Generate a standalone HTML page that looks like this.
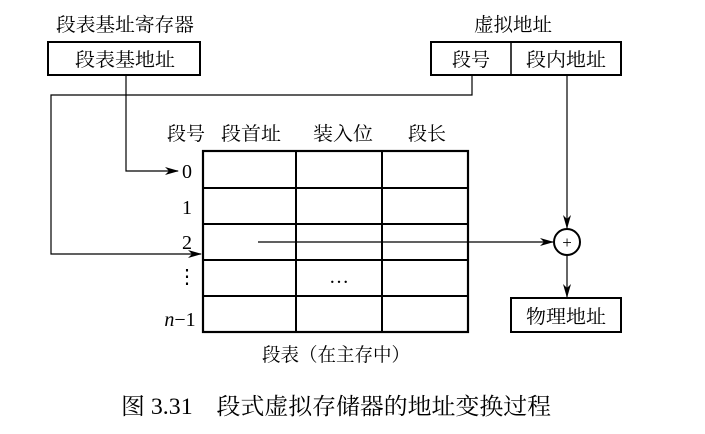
<!DOCTYPE html>
<html><head><meta charset="utf-8"><style>
html,body{margin:0;padding:0;background:#fff}
svg text{font-family:"Liberation Serif","Noto Serif CJK SC",serif;fill:#000}
</style></head><body>
<svg width="705" height="429" viewBox="0 0 705 429" xmlns="http://www.w3.org/2000/svg">
<defs><marker id="a" markerWidth="14" markerHeight="8" refX="13" refY="4" orient="auto" markerUnits="userSpaceOnUse"><path d="M0,0 L14,4 L0,8 L4,4 Z" fill="#000"/></marker></defs>
<g font-size="19">
<text x="56" y="31" textLength="138" lengthAdjust="spacingAndGlyphs">段表基址寄存器</text>
<text x="474" y="31" textLength="78" lengthAdjust="spacingAndGlyphs">虚拟地址</text>
</g>
<g fill="none" stroke="#000">
<rect x="48" y="42" width="152" height="33" stroke-width="2"/>
<rect x="431" y="42" width="190" height="33" stroke-width="2"/>
<line x1="511" y1="42" x2="511" y2="75" stroke-width="1.5"/>
<rect x="511" y="298" width="110" height="34" stroke-width="2"/>
<rect x="203" y="151" width="265" height="181" stroke-width="2.2"/>
<line x1="296" y1="151" x2="296" y2="332" stroke-width="2"/>
<line x1="382" y1="151" x2="382" y2="332" stroke-width="2"/>
<line x1="203" y1="188" x2="468" y2="188" stroke-width="2"/>
<line x1="203" y1="224" x2="468" y2="224" stroke-width="2"/>
<line x1="203" y1="260" x2="468" y2="260" stroke-width="2"/>
<line x1="203" y1="296" x2="468" y2="296" stroke-width="2"/>
<polyline points="126,75 126,171 178,171" stroke-width="1.2" marker-end="url(#a)"/>
<polyline points="472,75 472,95 51,95 51,254 201,254" stroke-width="1.2" marker-end="url(#a)"/>
<line x1="258" y1="242" x2="553" y2="242" stroke-width="1.2" marker-end="url(#a)"/>
<line x1="567" y1="75" x2="567" y2="228" stroke-width="1.2" marker-end="url(#a)"/>
<line x1="567" y1="256" x2="567" y2="297" stroke-width="1.2" marker-end="url(#a)"/>
<circle cx="567" cy="242" r="13" stroke-width="2"/>
</g>
<text x="567" y="248" font-size="17" text-anchor="middle">+</text>
<g font-size="19" text-anchor="middle">
<text x="125" y="66" textLength="100" lengthAdjust="spacingAndGlyphs">段表基地址</text>
<text x="471" y="66">段号</text>
<text x="566" y="66" textLength="80" lengthAdjust="spacingAndGlyphs">段内地址</text>
<text x="566" y="323" textLength="80" lengthAdjust="spacingAndGlyphs">物理地址</text>
<text x="186" y="140">段号</text>
<text x="251" y="140" textLength="60" lengthAdjust="spacingAndGlyphs">段首址</text>
<text x="343" y="140" textLength="60" lengthAdjust="spacingAndGlyphs">装入位</text>
<text x="427" y="140">段长</text>
<text x="336" y="361" textLength="148" lengthAdjust="spacingAndGlyphs">段表（在主存中）</text>
</g>
<g font-size="20" text-anchor="middle">
<text x="187" y="178">0</text>
<text x="187" y="214">1</text>
<text x="187" y="249">2</text>
<text x="187" y="283">⋮</text>
<text x="339" y="283">…</text>
<text x="180" y="326"><tspan font-style="italic">n</tspan>−1</text>
</g>
<text x="121" y="414" font-size="23" textLength="430" lengthAdjust="spacingAndGlyphs">图 3.31　段式虚拟存储器的地址变换过程</text>
</svg>
</body></html>
